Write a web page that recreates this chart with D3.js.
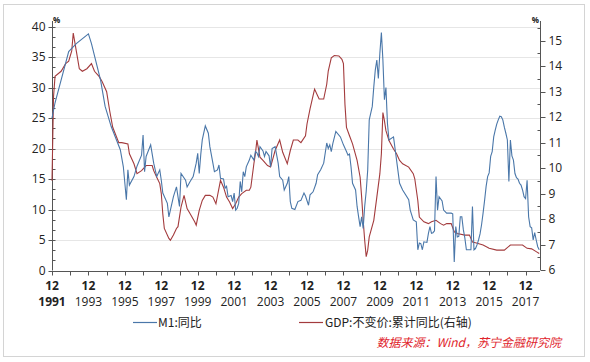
<!DOCTYPE html>
<html><head><meta charset="utf-8">
<script src="https://cdn.jsdelivr.net/npm/d3@7"></script>
<style>
html,body{margin:0;padding:0;background:#fff;}
svg{display:block;}
text{font-family:"Open Sans","Noto Sans CJK SC",sans-serif;}
</style></head><body>
<svg id="c" width="590" height="362"></svg>
<script>
// ---- data ----
const m1Dates = ["1991-12","1992-02","1992-11","1993-04","1993-12","1994-02","1994-08","1994-11","1995-03","1995-09","1995-11","1996-01","1996-02","1996-03","1996-06","1996-08","1996-11","1996-12","1997-01","1997-02","1997-05","1997-07","1997-09","1997-11","1997-12","1998-01","1998-04","1998-05","1998-08","1998-10","1998-12","1999-01","1999-04","1999-05","1999-07","1999-09","1999-11","1999-12","2000-01","2000-02","2000-03","2000-05","2000-07","2000-08","2000-10","2000-11","2001-01","2001-02","2001-03","2001-05","2001-06","2001-07","2001-08","2001-10","2001-11","2001-12","2002-01","2002-02","2002-03","2002-04","2002-05","2002-06","2002-07","2002-08","2002-10","2002-11","2003-01","2003-02","2003-03","2003-04","2003-05","2003-07","2003-08","2003-09","2003-11","2003-12","2004-01","2004-03","2004-05","2004-06","2004-08","2004-09","2004-11","2004-12","2005-01","2005-02","2005-04","2005-06","2005-08","2005-10","2005-11","2006-01","2006-02","2006-04","2006-06","2006-07","2006-09","2006-11","2007-01","2007-02","2007-03","2007-04","2007-05","2007-07","2007-10","2007-12","2008-02","2008-03","2008-04","2008-05","2008-06","2008-08","2008-09","2008-10","2008-11","2008-12","2009-01","2009-02","2009-03","2009-04","2009-05","2009-06","2009-07","2009-08","2009-09","2009-10","2009-11","2009-12","2010-01","2010-02","2010-03","2010-04","2010-05","2010-06","2010-09","2010-11","2011-01","2011-03","2011-07","2011-08","2011-10","2011-12","2012-01","2012-02","2012-03","2012-04","2012-05","2012-07","2012-08","2012-09","2012-10","2012-11","2012-12","2013-01","2013-02","2013-03","2013-05","2013-06","2013-08","2013-11","2013-12","2014-01","2014-02","2014-03","2014-04","2014-05","2014-06","2014-07","2014-08","2014-09","2014-10","2014-11","2014-12","2015-01","2015-02","2015-03","2015-04","2015-05","2015-06","2015-07","2015-08","2015-09","2015-10","2015-11","2015-12","2016-01","2016-02","2016-03","2016-04","2016-05","2016-06","2016-07","2016-08","2016-09","2016-10","2016-11","2016-12","2017-01","2017-02","2017-03","2017-04","2017-05","2017-06","2017-07","2017-08","2017-09","2017-10","2017-11","2017-12","2018-01","2018-02","2018-03","2018-04","2018-05","2018-06","2018-07","2018-08","2018-09"];
const m1Values = [25.0,27.5,35.9,37.2,38.8,37.2,31.2,26.9,23.6,19.8,17.0,11.6,16.5,14.0,15.4,17.1,18.9,22.2,16.2,18.7,20.6,17.6,15.4,16.5,14.8,12.7,11.0,8.8,12.1,13.7,10.5,15.9,14.8,13.7,14.6,15.4,17.6,19.2,15.9,19.0,21.4,23.7,22.5,20.3,17.6,16.2,16.5,17.3,15.1,15.0,13.5,13.8,12.1,12.3,11.3,12.7,9.9,10.2,11.0,14.6,12.9,16.2,15.4,17.0,18.1,18.9,18.1,19.5,19.3,18.7,20.3,19.6,18.7,19.5,18.8,17.0,20.0,20.3,17.6,15.4,14.8,13.2,14.3,15.4,11.3,10.2,10.0,11.3,11.5,12.7,12.2,10.7,12.4,12.9,14.3,15.7,16.5,17.6,20.9,20.0,20.6,19.5,20.8,22.8,21.9,20.6,19.5,18.9,19.1,17.0,14.3,13.2,10.5,8.8,7.2,8.8,6.9,10.5,13.0,16.5,24.7,25.8,26.9,30.1,32.9,34.5,31.5,35.6,39.0,34.5,28.0,30.0,24.1,21.4,21.9,18.1,14.3,13.2,11.6,9.9,8.3,8.0,3.4,4.5,4.4,3.4,4.7,4.6,6.1,7.2,6.1,6.2,6.5,15.4,9.9,12.1,11.4,9.9,9.4,9.4,9.3,1.4,7.2,5.5,5.6,8.8,8.8,6.7,5.3,3.4,3.4,3.4,3.4,10.5,3.4,3.6,4.2,5.0,6.0,7.5,9.4,11.5,13.8,15.4,16.0,18.7,19.5,21.9,23.0,24.0,24.7,25.3,25.2,24.7,23.5,22.5,21.4,14.6,21.4,18.8,18.1,15.9,15.2,15.0,14.3,14.0,13.2,12.1,11.8,14.8,8.8,7.2,7.0,5.0,6.2,5.0,3.9,3.4];

const gdpDates = ["1991-12","1992-01","1992-02","1992-06","1992-09","1992-11","1993-01","1993-02","1993-04","1993-06","1993-08","1993-11","1994-02","1994-04","1994-07","1994-09","1994-12","1995-02","1995-04","1995-08","1995-10","1996-02","1996-03","1996-06","1996-08","1996-11","1997-02","1997-06","1997-07","1997-09","1997-11","1997-12","1998-01","1998-02","1998-05","1998-06","1998-08","1998-10","1998-11","1999-01","1999-03","1999-05","1999-07","1999-10","1999-11","2000-01","2000-03","2000-05","2000-08","2000-10","2000-12","2001-03","2001-05","2001-07","2001-09","2001-11","2002-01","2002-03","2002-05","2002-08","2002-10","2002-11","2003-01","2003-02","2003-03","2003-05","2003-07","2003-10","2003-12","2004-03","2004-06","2004-08","2004-11","2005-01","2005-03","2005-06","2005-08","2005-11","2005-12","2006-02","2006-04","2006-05","2006-07","2006-08","2006-11","2007-01","2007-02","2007-04","2007-06","2007-09","2007-11","2007-12","2008-01","2008-02","2008-04","2008-06","2008-09","2008-11","2008-12","2009-01","2009-02","2009-03","2009-04","2009-05","2009-08","2009-10","2009-12","2010-01","2010-02","2010-03","2010-04","2010-06","2010-09","2010-11","2011-01","2011-03","2011-07","2011-10","2011-11","2012-01","2012-02","2012-05","2012-08","2012-10","2013-01","2013-04","2013-06","2013-08","2013-11","2014-01","2014-03","2014-08","2014-11","2015-01","2015-03","2015-08","2015-12","2016-05","2016-10","2017-02","2017-10","2018-01","2018-04","2018-07","2018-09"];
const gdpValues = [9.5,12.8,13.6,13.8,14.1,14.2,14.6,15.3,14.6,13.9,13.8,13.9,14.1,13.8,13.6,13.4,13.0,12.25,11.6,11.0,11.0,10.95,10.56,10.17,9.78,9.9,10.1,10.1,9.9,9.64,9.39,9.0,8.2,7.63,7.24,7.17,7.37,7.63,7.7,8.47,8.93,8.41,8.21,7.89,7.76,8.34,8.73,8.93,8.93,8.86,8.6,9.52,9.25,8.86,8.67,8.41,8.6,8.86,9.0,9.13,9.13,9.25,10.17,10.56,11.1,10.43,10.3,10.1,10.04,10.69,11.1,10.62,10.17,10.69,11.1,11.1,11.0,11.27,11.73,12.32,12.84,13.1,12.84,12.71,12.71,13.29,13.81,14.33,14.42,14.4,14.27,14.1,12.5,11.6,11.27,10.95,10.3,9.64,8.86,7.95,7.17,6.52,6.78,7.3,7.95,8.86,9.78,10.56,12.18,11.86,11.47,11.08,10.75,10.56,10.3,10.17,10.04,9.78,9.58,8.73,8.08,7.89,7.82,7.89,7.95,7.82,7.76,7.82,7.82,7.5,7.43,7.37,7.37,7.1,7.07,6.98,6.85,6.78,6.78,6.98,6.98,6.85,6.83,6.72,6.65];

const leftTicks = [0,5,10,15,20,25,30,35,40];
const rightTicks = [6,7,8,9,10,11,12,13,14,15];
const xTickYears = [1991,1993,1995,1997,1999,2001,2003,2005,2007,2009,2011,2013,2015,2017];
const xTickMonthLabel = "12";
const legendLabels = ["M1:同比","GDP:不变价:累计同比(右轴)"];
const sourceText = "数据来源：Wind，苏宁金融研究院";

// ---- helpers ----
function mIndex(s){const [y,m]=s.split("-").map(Number);return (y-1991)*12+(m-12);}

const svg = d3.select("#c");
const blue = "#4a77a9", red = "#a33b3d";

// frame
svg.append("rect").attr("x",3.5).attr("y",4.5).attr("width",581).attr("height",352)
  .attr("fill","none").attr("stroke","#d4d4d4").attr("stroke-width",1);

const x = d3.scaleLinear().domain([0,321.5]).range([52,540]);
const yL = d3.scaleLinear().domain([0,40]).range([270.5,26.5]);
const yR = d3.scaleLinear().domain([6,15]).range([270,40.7]);
const axisTop = 21;

// gridlines
svg.append("g").selectAll("line").data(leftTicks.filter(d=>d>0)).join("line")
  .attr("x1",52).attr("x2",540).attr("y1",d=>Math.round(yL(d))+0.5).attr("y2",d=>Math.round(yL(d))+0.5)
  .attr("stroke","#e6e6e6").attr("stroke-width",1);

const axisColor = "#555";

// left axis
const gL = svg.append("g").attr("transform","translate(52.5,0)");
gL.append("line").attr("x1",0).attr("x2",0).attr("y1",axisTop).attr("y2",yL(0)).attr("stroke",axisColor);
const leftMinor = d3.range(0,40.01,5/3);
gL.selectAll(".mn").data(leftMinor).join("line")
  .attr("x1",0).attr("x2",3).attr("y1",d=>Math.round(yL(d))+0.5).attr("y2",d=>Math.round(yL(d))+0.5).attr("stroke",axisColor);
gL.selectAll(".mj").data(leftTicks).join("line")
  .attr("x1",-4).attr("x2",0).attr("y1",d=>Math.round(yL(d))+0.5).attr("y2",d=>Math.round(yL(d))+0.5).attr("stroke",axisColor);
gL.selectAll("text").data(leftTicks).join("text")
  .attr("x",-7).attr("y",d=>yL(d)).attr("dy","0.35em").attr("text-anchor","end")
  .attr("font-size",12).attr("fill","#222").text(d=>d);
svg.append("text").attr("x",53).attr("y",23).attr("font-size",8).attr("font-weight","bold").attr("fill","#222").text("%");

// right axis
const gR = svg.append("g").attr("transform","translate(540.5,0)");
gR.append("line").attr("x1",0).attr("x2",0).attr("y1",axisTop).attr("y2",yR(6)).attr("stroke",axisColor);
const rightMinor = d3.range(6.5,15.6,1);
gR.selectAll(".mn").data(rightMinor).join("line")
  .attr("x1",-3).attr("x2",0).attr("y1",d=>Math.round(yR(d))+0.5).attr("y2",d=>Math.round(yR(d))+0.5).attr("stroke",axisColor);
gR.selectAll(".mj").data(rightTicks).join("line")
  .attr("x1",0).attr("x2",5).attr("y1",d=>Math.round(yR(d))+0.5).attr("y2",d=>Math.round(yR(d))+0.5).attr("stroke",axisColor);
gR.selectAll("text").data(rightTicks).join("text")
  .attr("x",8).attr("y",d=>yR(d)).attr("dy","0.35em").attr("text-anchor","start")
  .attr("font-size",12).attr("fill","#222").text(d=>d);
svg.append("text").attr("x",539).attr("y",23).attr("text-anchor","end").attr("font-size",8).attr("font-weight","bold").attr("fill","#222").text("%");

// x axis
const gX = svg.append("g").attr("transform","translate(0,"+(Math.round(yL(0))+0.5)+")");
gX.append("line").attr("x1",52).attr("x2",540).attr("stroke",axisColor);
const yearTicks = d3.range(1991,2018);
gX.selectAll(".t").data(yearTicks).join("line")
  .attr("x1",d=>Math.round(x((d-1991)*12))+0.5).attr("x2",d=>Math.round(x((d-1991)*12))+0.5)
  .attr("y1",0).attr("y2",4).attr("stroke",axisColor);
gX.selectAll(".l1").data(xTickYears).join("text")
  .attr("x",d=>x((d-1991)*12)).attr("y",14).attr("dy","0.35em").attr("text-anchor","middle")
  .attr("font-size",12).attr("font-weight","bold").attr("fill","#222").text(xTickMonthLabel);
gX.selectAll(".l2").data(xTickYears).join("text")
  .attr("x",d=>x((d-1991)*12)).attr("y",30).attr("dy","0.35em").attr("text-anchor","middle")
  .attr("font-size",12).attr("font-weight",(d,i)=>i===0?"bold":"normal").attr("fill","#222").text(d=>d);

// lines
const m1 = m1Dates.map((d,i)=>({m:mIndex(d),v:m1Values[i]}));
const gdp = gdpDates.map((d,i)=>({m:mIndex(d),v:gdpValues[i]}));
svg.append("path").datum(gdp).attr("fill","none").attr("stroke",red).attr("stroke-width",1.1)
  .attr("d",d3.line().x(d=>x(d.m)).y(d=>yR(d.v)));
svg.append("path").datum(m1).attr("fill","none").attr("stroke",blue).attr("stroke-width",1.1)
  .attr("d",d3.line().x(d=>x(d.m)).y(d=>yL(d.v)));

// legend
const lg = svg.append("g");
lg.append("line").attr("x1",133).attr("x2",157).attr("y1",322.5).attr("y2",322.5).attr("stroke",blue).attr("stroke-width",1.2);
lg.append("text").attr("x",158).attr("y",322.5).attr("dy","0.35em").attr("font-size",12).attr("fill","#222")
  .style("font-family","'Noto Sans CJK SC',sans-serif").text(legendLabels[0]);
lg.append("line").attr("x1",299).attr("x2",323).attr("y1",322.5).attr("y2",322.5).attr("stroke",red).attr("stroke-width",1.2);
lg.append("text").attr("x",325).attr("y",322.5).attr("dy","0.35em").attr("font-size",12).attr("fill","#222")
  .style("font-family","'Noto Sans CJK SC',sans-serif").text(legendLabels[1]);

// source
svg.append("text").attr("x",561).attr("y",343).attr("dy","0.35em").attr("text-anchor","end")
  .attr("font-size",12).attr("font-style","italic").attr("fill","#e0242b")
  .style("font-family","'Noto Sans CJK SC',sans-serif").text(sourceText);
</script>
</body></html>
